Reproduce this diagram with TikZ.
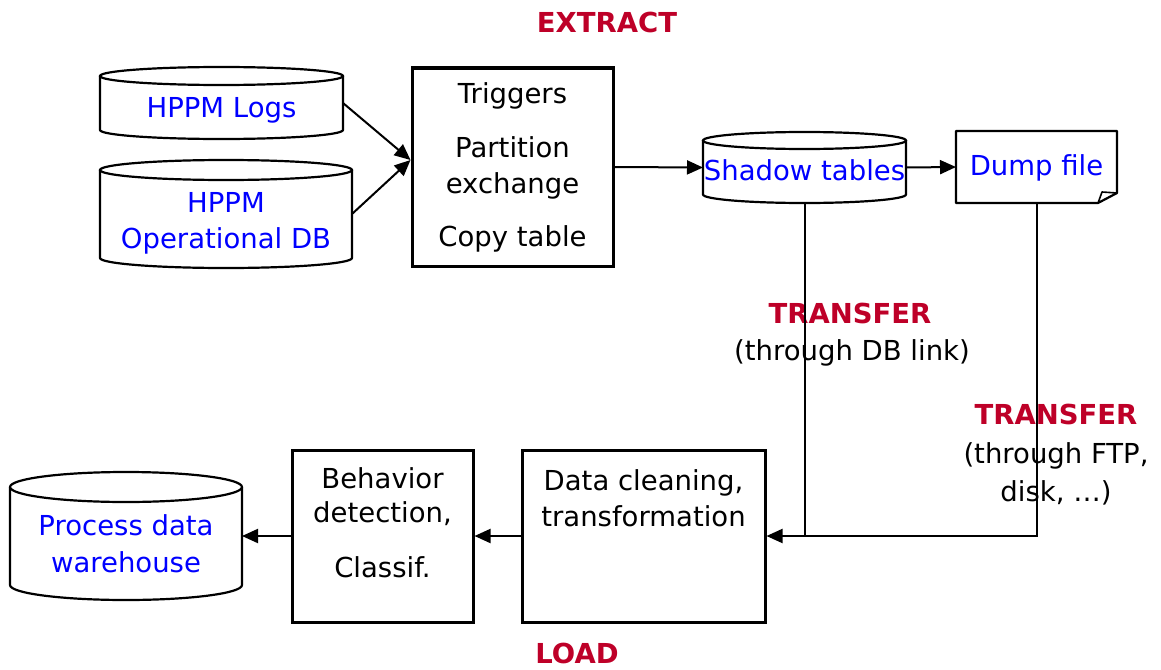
\documentclass[tikz,border=0pt]{standalone}
\usepackage{fontspec}
\setmainfont{DejaVu Sans}
\usetikzlibrary{arrows.meta,calc}
\definecolor{etlred}{RGB}{190,0,40}
\definecolor{etlblue}{RGB}{0,0,255}
\newcommand\tfont{\fontsize{27.5}{36}\selectfont}
\newcommand\drawcyl[5]{% x1 x2 ytop ybot ry
  \pgfmathsetmacro\cylcx{(#1+#2)/2}%
  \pgfmathsetmacro\cylrx{(#2-#1)/2}%
  \pgfmathsetmacro\cylya{#3+#5}%
  \pgfmathsetmacro\cylyb{#4-#5}%
  \draw[cyl] (#1,\cylya) -- (#1,\cylyb) arc[start angle=180,end angle=0,x radius=\cylrx,y radius=#5] -- (#2,\cylya);
  \draw[cyl] (\cylcx,\cylya) ellipse[x radius=\cylrx,y radius=#5];
}
\tikzset{
  cyl/.style={line width=2.2pt},
  hold/.style={inner sep=0pt,outer sep=0pt},
  boxnode/.style={draw,line width=3pt,inner sep=0pt,align=center,font=\tfont},
  bluetxt/.style={text=etlblue,font=\tfont,align=center,inner sep=0pt},
  blacktxt/.style={text=black,font=\tfont,align=center,inner sep=0pt},
  redtxt/.style={text=etlred,font=\tfont\bfseries,inner sep=0pt},
  arr/.style={line width=2pt,-{Triangle[length=16pt,width=14pt]}},
  plain/.style={line width=2pt}
}
\begin{document}
\begin{tikzpicture}[x=1pt,y=-1pt]
\useasboundingbox (0,0) rectangle (1161,669);

% titles
\node[redtxt] (extract) at (607,22) {EXTRACT};
\node[redtxt] (load) at (577,653) {LOAD};

% HPPM Logs cylinder
\node[hold,minimum width=243pt,minimum height=72pt] (logs) at (221.5,103) {};
\drawcyl{100}{343}{67}{139}{9}
\node[bluetxt] (logstxt) at (221.5,110) {HPPM Logs};

% HPPM Operational DB cylinder
\node[hold,minimum width=252pt,minimum height=108pt] (opdb) at (226,214) {};
\drawcyl{100}{352}{160}{268}{10}
\node[bluetxt] (opdbtxt) at (226,223) {HPPM\\Operational DB};

% Triggers box
\node[boxnode,minimum width=201pt,minimum height=198pt] (trig) at (512.5,167)
  {Triggers\\[18pt]Partition\\exchange\\[17pt]Copy table};

% Shadow tables cylinder
\node[hold,minimum width=203pt,minimum height=71pt] (shadow) at (804.5,167.5) {};
\drawcyl{703}{906}{132}{203}{8.5}
\node[bluetxt] (shadowtxt) at (804.5,170) {Shadow tables};

% Dump file
\node[hold,minimum width=161pt,minimum height=72pt] (dump) at (1036.5,167) {};
\draw[line width=2.2pt,line join=round] (dump.north west) -- (dump.north east) -- ($(dump.south east)+(0,-10)$) -- ($(dump.south east)+(-19,0)$) -- (dump.south west) -- cycle;
\draw[line width=1.6pt,line join=round] ($(dump.south east)+(-19,0)$) -- ($(dump.south east)+(-15,-11)$) -- ($(dump.south east)+(0,-10)$);
\node[bluetxt] (dumptxt) at (1036.5,168) {Dump file};

% bottom row
\node[boxnode,minimum width=243pt,minimum height=172pt] (clean) at (643.5,536) {};
\node[blacktxt] (cleantxt) at (643.5,498) {Data cleaning,\\transformation};

\node[boxnode,minimum width=181pt,minimum height=172pt] (beh) at (382.5,536) {};
\node[blacktxt,font=\fontsize{27.5}{34}\selectfont] (behtxt) at (382.5,522.5) {Behavior\\detection,\\[21pt]Classif.};

\node[hold,minimum width=232pt,minimum height=128pt] (wh) at (126,536) {};
\drawcyl{10}{242}{472}{600}{15}
\node[bluetxt,font=\fontsize{27.5}{37}\selectfont] (whtxt) at (126,543.5) {Process data\\warehouse};

% transfer labels
\node[redtxt] (tr1) at (850,313) {TRANSFER};
\node[blacktxt] (tr1b) at (852,353) {(through DB link)};
\node[redtxt] (tr2) at (1056,414) {TRANSFER};
\node[blacktxt,font=\fontsize{27.5}{38}\selectfont] (tr2b) at (1056,474) {(through FTP,\\disk, …)};

% connectors
\draw[arr] (logs.east) -- ($(trig.west)+(0,-7)$);
\draw[arr] (opdb.east) -- ($(trig.west)+(0,-7)$);
\draw[arr] (trig.east) -- (shadow.west);
\draw[arr] (shadow.east) -- (dump.west);
\draw[plain] (shadow.south) -- (shadow.south |- clean.east);
\draw[arr] (dump.south) |- (clean.east);
\draw[arr] (clean.west) -- (beh.east);
\draw[arr] (beh.west) -- (wh.east);
\end{tikzpicture}
\end{document}
